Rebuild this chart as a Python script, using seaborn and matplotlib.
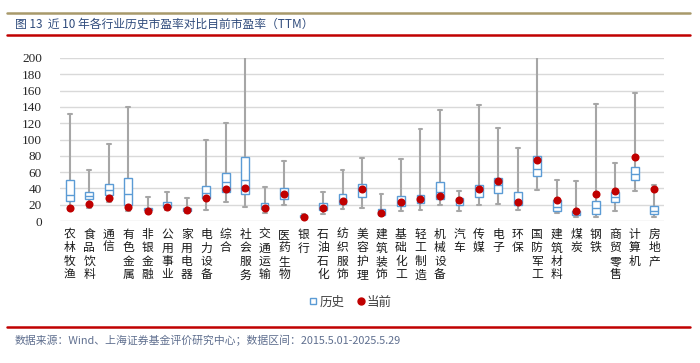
import numpy as np
import pandas as pd
import matplotlib
matplotlib.use("Agg")
import matplotlib.pyplot as plt
import seaborn as sns
from matplotlib.lines import Line2D

industries = ["农林牧渔", "食品饮料", "通信", "有色金属", "非银金融", "公用事业", "家用电器",
              "电力设备", "综合", "社会服务", "交通运输", "医药生物", "银行", "石油石化",
              "纺织服饰", "美容护理", "建筑装饰", "基础化工", "轻工制造", "机械设备", "汽车",
              "传媒", "电子", "环保", "国防军工", "建筑材料", "煤炭", "钢铁", "商贸零售",
              "计算机", "房地产"]
hist_min = [14, 16, 23.8, 12, 11, 13, 10, 13, 23.8, 16.8, 10.2, 19.7, 4, 8.2, 14.3, 16.4,
            6.5, 12.3, 14, 19.7, 12.3, 19.7, 20.9, 14, 37.7, 9.4, 4.5, 4.5, 12.7, 36.9, 5.3]
hist_q1 = [25, 26.6, 32, 19.7, 13, 17.2, 12.7, 27.9, 35.7, 33.6, 15.2, 27.5, 5, 13.5, 20.5, 29.5,
           7.4, 18, 22, 26.6, 19.7, 29.5, 34.4, 19.2, 55.3, 12.7, 7.4, 8.8, 23.4, 49.8, 8.2]
hist_median = [32, 30.7, 37.7, 33.6, 15, 19.7, 14.8, 34, 47.5, 50.4, 18, 33.6, 5.7, 18.4, 25, 38,
               10, 23, 28.7, 35, 24, 37, 44.3, 25, 64, 17.3, 10, 16, 29, 57.5, 12.7]
hist_q3 = [50, 35.7, 46, 53, 16.4, 23.8, 16.4, 43.4, 58.6, 79, 21.7, 40, 6.8, 21.7, 32.8, 45,
           14.8, 30.7, 32, 48, 27.9, 43.9, 53.3, 36, 80.3, 26.2, 12.7, 24.8, 35.2, 66.7, 18.9]
hist_max = [131, 62, 94.7, 140, 29.5, 36, 28.7, 99.6, 120.5, 250, 42.2, 74, 8, 36, 62.7, 77,
            32.8, 76.2, 113, 136, 37.3, 141.8, 114, 89, 250, 50, 49.2, 143.9, 70.9, 157.4, 43.9]
current_pe = [16, 21, 28.7, 17.2, 12.7, 17.2, 13.5, 28.3, 39.3, 41, 16.4, 33.6, 5.3, 15.6, 24.6,
              39.3, 9.4, 23.8, 27, 30.7, 25.8, 39.3, 49.2, 23.8, 75, 25.4, 11.9, 32.8, 37.3,
              79.1, 38.9]
y_ticks = list(range(0, 201, 20))

title_text = "图 13  近 10 年各行业历史市盈率对比目前市盈率（TTM）"
source_text = "数据来源：Wind、上海证券基金评价研究中心；数据区间：2015.5.01-2025.5.29"

rows = []
for i, name in enumerate(industries):
    for v in (hist_min[i], hist_q1[i], hist_median[i], hist_q3[i], hist_max[i]):
        rows.append({"行业": name, "PE": v})
df = pd.DataFrame(rows)

sns.set_style("white")
plt.rcParams["font.family"] = ["Noto Sans CJK SC", "DejaVu Sans"]

W, H = 700, 363
fig = plt.figure(figsize=(W / 100, H / 100), dpi=100)
ax = fig.add_axes([60 / W, 1 - 221 / H, (664 - 60) / W, (221 - 58) / H])

BLUE = "#5B9BD5"
GRAY = "#A6A6A6"
RED = "#C00000"

sns.boxplot(data=df, x="行业", y="PE", order=industries, whis=(0, 100), width=0.4,
            color="white", linecolor=BLUE, linewidth=1.0, fliersize=0,
            boxprops=dict(facecolor="white", edgecolor=BLUE, linewidth=1.0, zorder=2),
            whiskerprops=dict(color=GRAY, linewidth=1.5, zorder=1),
            capprops=dict(color=GRAY, linewidth=1.5, zorder=1),
            medianprops=dict(color=BLUE, linewidth=1.0, zorder=2.5),
            ax=ax)
sns.stripplot(x=industries, y=current_pe, order=industries, jitter=False, color=RED,
              size=5.8, linewidth=0, ax=ax, zorder=4)

ax.set_xlim(-0.5, len(industries) - 0.5)
ax.set_ylim(0, 200)
ax.set_yticks(y_ticks)
ax.set_yticklabels([str(t) for t in y_ticks], fontfamily="Liberation Serif", fontsize=9.5,
                   color="#262626")
ax.set_xticks(range(len(industries)))
ax.set_xticklabels(["\n".join(n) for n in industries], fontsize=8.5, color="#1a1a1a",
                   linespacing=1.05)
ax.tick_params(axis="y", length=0, pad=13)
ax.tick_params(axis="x", length=0, pad=5)
ax.set_xlabel("")
ax.set_ylabel("")
for s in ax.spines.values():
    s.set_visible(False)
ax.yaxis.grid(True, color="#D9D9D9", linewidth=1.0)
ax.set_axisbelow(True)

handles = [Line2D([], [], marker="s", linestyle="None", markerfacecolor="white",
                  markeredgecolor=BLUE, markeredgewidth=1.0, markersize=5, label="历史"),
           Line2D([], [], marker="o", linestyle="None", markerfacecolor=RED,
                  markeredgecolor=RED, markersize=5, label="当前")]
fig.legend(handles=handles, loc="center", bbox_to_anchor=(350 / W, 1 - 302 / H), ncol=2,
           frameon=False, fontsize=9, handletextpad=0.1, columnspacing=0.9,
           handlelength=0.8, labelcolor="#404040")

fig.add_artist(Line2D([7 / W, 690 / W], [1 - 13 / H, 1 - 13 / H], color="#A8996A",
                      linewidth=1.8, transform=fig.transFigure))
fig.add_artist(Line2D([7 / W, 690 / W], [1 - 35 / H, 1 - 35 / H], color="#C00000",
                      linewidth=1.8, transform=fig.transFigure))
fig.add_artist(Line2D([7 / W, 690 / W], [1 - 327 / H, 1 - 327 / H], color="#C00000",
                      linewidth=1.8, transform=fig.transFigure))
fig.text(15 / W, 1 - 24 / H, title_text, fontsize=8.5, color="#2F4B7C", va="center", ha="left")
fig.text(15 / W, 1 - 340 / H, source_text, fontsize=7.8, color="#5F6F8F", va="center",
         ha="left")

fig.savefig("out.png", dpi=100)
